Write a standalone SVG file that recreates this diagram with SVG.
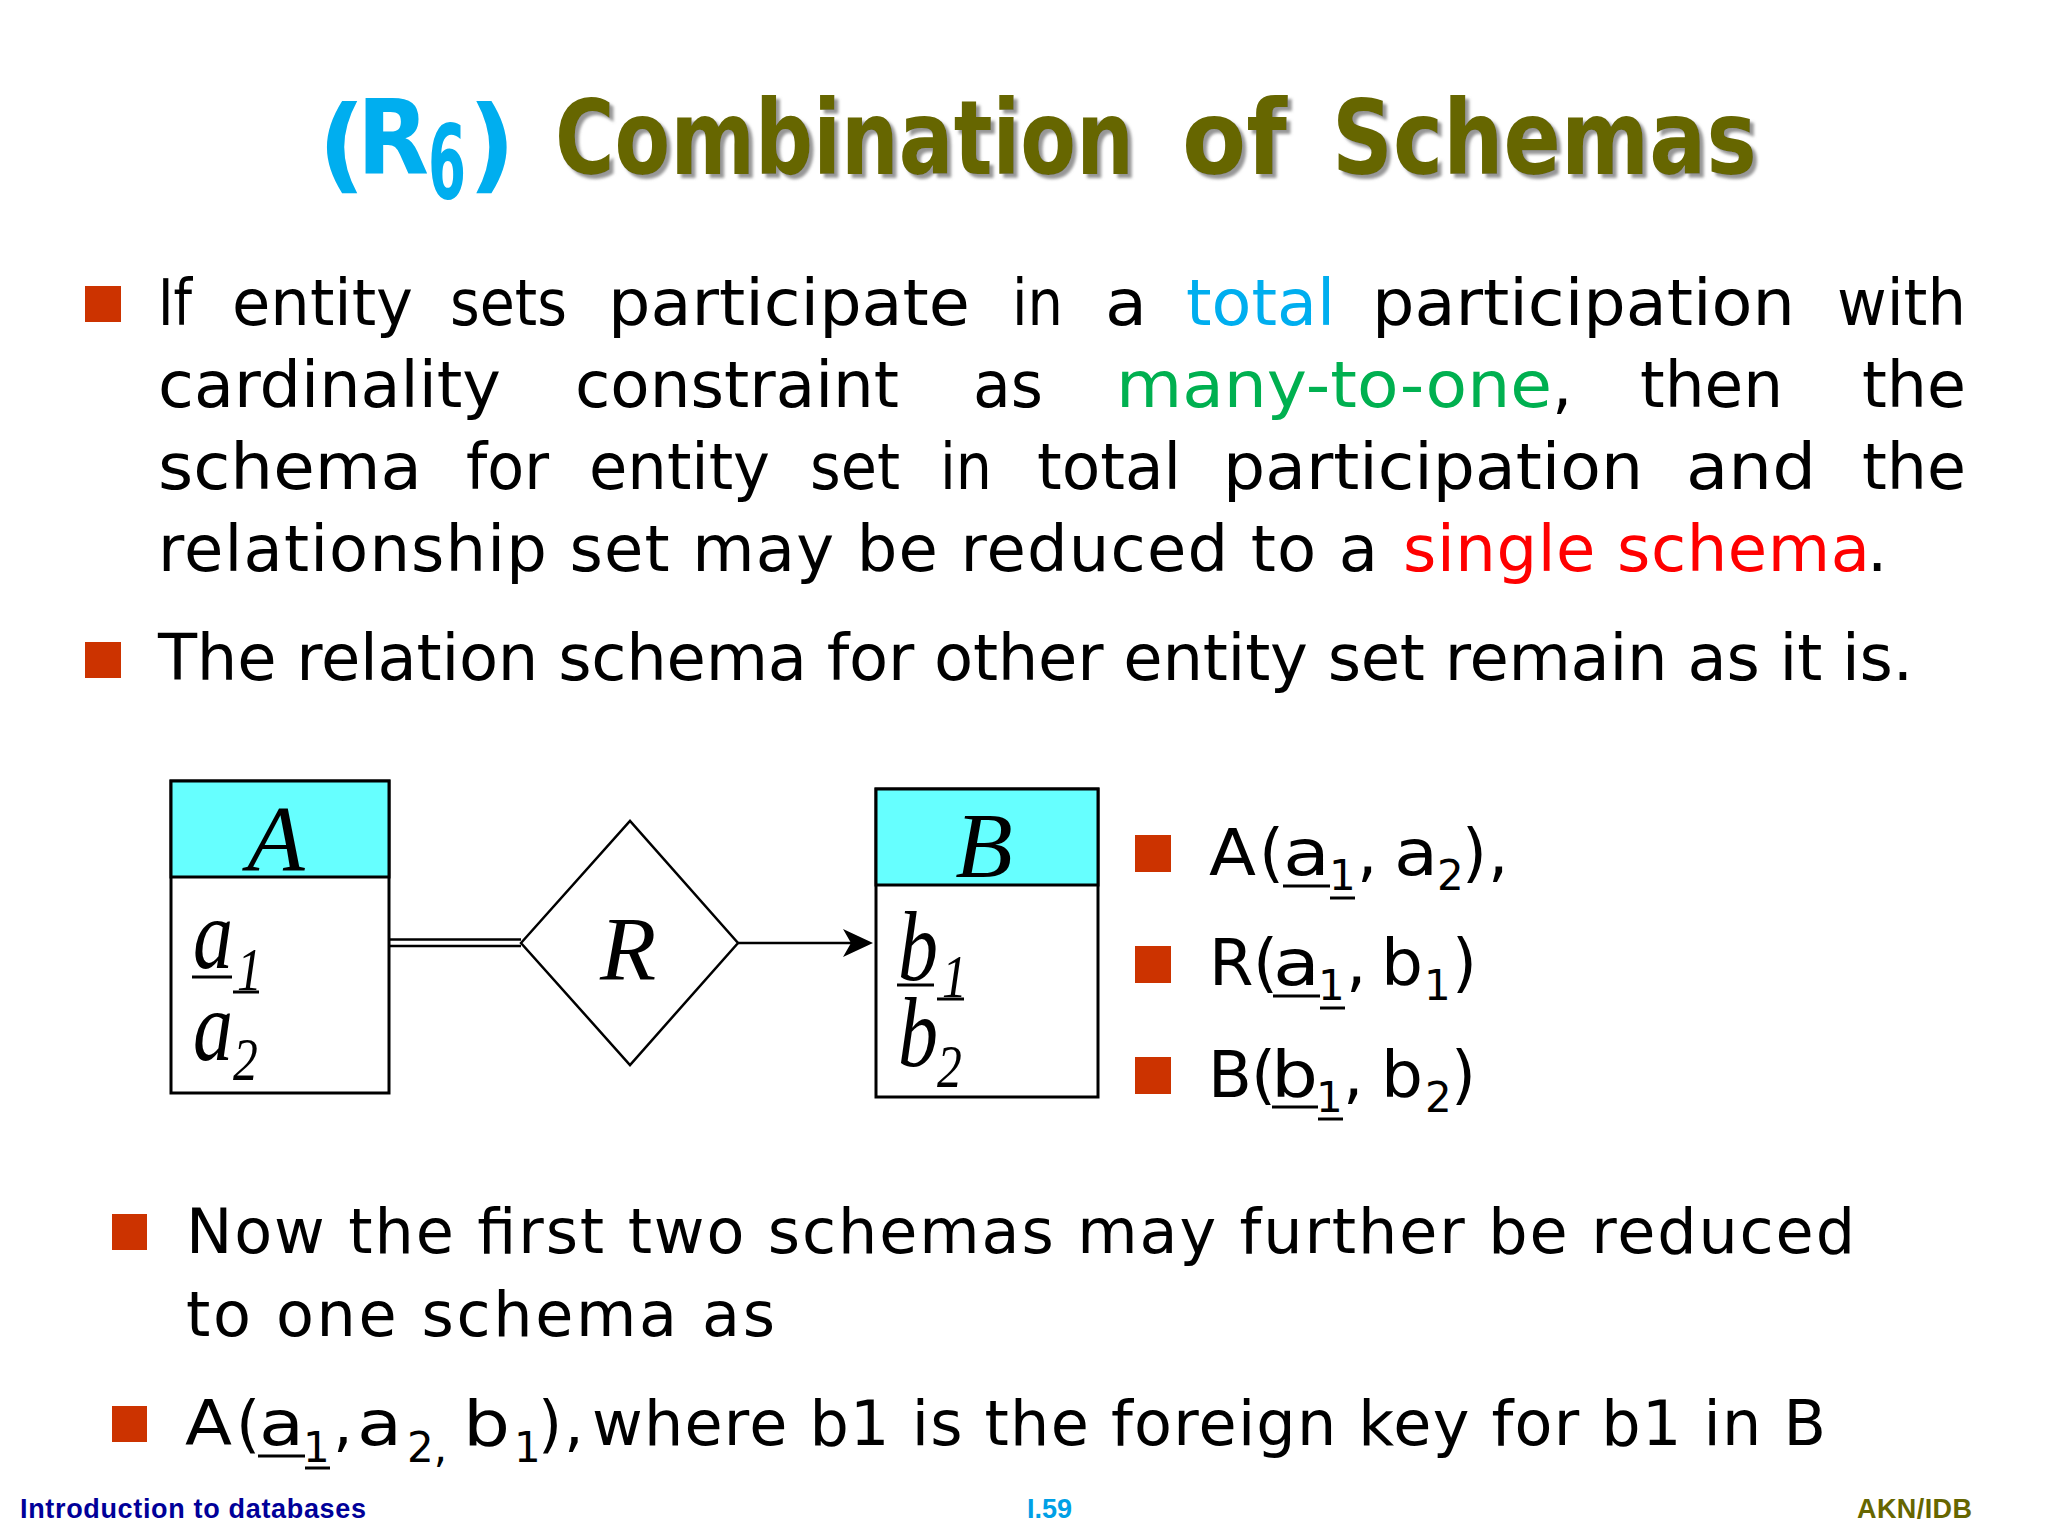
<svg xmlns="http://www.w3.org/2000/svg" width="2048" height="1536" viewBox="0 0 2048 1536">
<defs>
<style>
.t{font-family:"DejaVu Sans","Liberation Sans",sans-serif;font-size:64px;fill:#000}
.b{font-family:"DejaVu Sans","Liberation Sans",sans-serif;font-size:62px;fill:#000}
.sub{font-size:42px}
.bul{fill:#cc3300}
.ttl{font-family:"DejaVu Sans","Liberation Sans",sans-serif;font-weight:bold;font-size:104px}
.er{font-family:"Liberation Serif","Times New Roman",serif;font-style:italic;fill:#000}
.box{fill:#fff;stroke:#000;stroke-width:3}
.hdr{fill:#66ffff;stroke:#000;stroke-width:3}
.ul{stroke:#000;stroke-width:3}
.ft{font-family:"Liberation Sans",Arial,sans-serif;font-weight:bold;font-size:27px}
</style>
<filter id="sh" x="-5%" y="-20%" width="110%" height="150%"><feDropShadow dx="4" dy="4" stdDeviation="1.5" flood-color="#8c8c8c" flood-opacity="0.9"/></filter>
</defs>
<rect width="2048" height="1536" fill="#ffffff"/>

<g id="title">
<g fill="#00aeef">
<text class="ttl" x="318" y="180" font-size="124">(</text>
<text class="ttl" x="357" y="174" textLength="72" lengthAdjust="spacingAndGlyphs">R</text>
<text class="ttl" x="428" y="199" font-size="66" textLength="38" lengthAdjust="spacingAndGlyphs">6</text>
<text class="ttl" x="468" y="180" font-size="124">)</text>
</g>
<g fill="#666600" filter="url(#sh)">
<text class="ttl" x="555" y="174" textLength="579" lengthAdjust="spacingAndGlyphs">Combination</text>
<text class="ttl" x="1182" y="174" textLength="105" lengthAdjust="spacingAndGlyphs">of</text>
<text class="ttl" x="1332" y="174" textLength="425" lengthAdjust="spacingAndGlyphs">Schemas</text>
</g>
</g>

<g id="bullets-top">
<rect class="bul" x="85" y="286" width="36" height="36"/>
<text class="t" y="325"><tspan x="158" textLength="34" lengthAdjust="spacingAndGlyphs">If</tspan><tspan x="232" textLength="181" lengthAdjust="spacingAndGlyphs">entity</tspan><tspan x="450" textLength="117" lengthAdjust="spacingAndGlyphs">sets</tspan><tspan x="608" textLength="362" lengthAdjust="spacingAndGlyphs">participate</tspan><tspan x="1012" textLength="51" lengthAdjust="spacingAndGlyphs">in</tspan><tspan x="1105" textLength="42" lengthAdjust="spacingAndGlyphs">a</tspan><tspan x="1186" textLength="149" lengthAdjust="spacingAndGlyphs" fill="#00aeef">total</tspan><tspan x="1372" textLength="423" lengthAdjust="spacingAndGlyphs">participation</tspan><tspan x="1837" textLength="129" lengthAdjust="spacingAndGlyphs">with</tspan></text>
<text class="t" y="407"><tspan x="158" textLength="343" lengthAdjust="spacingAndGlyphs">cardinality</tspan><tspan x="575" textLength="324" lengthAdjust="spacingAndGlyphs">constraint</tspan><tspan x="973" textLength="70" lengthAdjust="spacingAndGlyphs">as</tspan><tspan x="1116" textLength="436" lengthAdjust="spacingAndGlyphs" fill="#00b050">many-to-one</tspan><tspan x="1552">,</tspan><tspan x="1640" textLength="143" lengthAdjust="spacingAndGlyphs">then</tspan><tspan x="1862" textLength="104" lengthAdjust="spacingAndGlyphs">the</tspan></text>
<text class="t" y="489"><tspan x="158" textLength="264" lengthAdjust="spacingAndGlyphs">schema</tspan><tspan x="466" textLength="83" lengthAdjust="spacingAndGlyphs">for</tspan><tspan x="589" textLength="181" lengthAdjust="spacingAndGlyphs">entity</tspan><tspan x="810" textLength="90" lengthAdjust="spacingAndGlyphs">set</tspan><tspan x="940" textLength="52" lengthAdjust="spacingAndGlyphs">in</tspan><tspan x="1037" textLength="144" lengthAdjust="spacingAndGlyphs">total</tspan><tspan x="1223" textLength="420" lengthAdjust="spacingAndGlyphs">participation</tspan><tspan x="1686" textLength="130" lengthAdjust="spacingAndGlyphs">and</tspan><tspan x="1862" textLength="104" lengthAdjust="spacingAndGlyphs">the</tspan></text>
<text class="t" y="571"><tspan x="158" textLength="1220">relationship set may be reduced to a</tspan><tspan x="1403" textLength="467" fill="#ff0000">single schema</tspan><tspan x="1867">.</tspan></text>
<rect class="bul" x="85" y="642" width="36" height="36"/>
<text class="t" x="158" y="680" textLength="1755">The relation schema for other entity set remain as it is.</text>
</g>

<g id="entity-A">
<rect class="box" x="171" y="781" width="218" height="312"/>
<rect class="hdr" x="171" y="781" width="218" height="96"/>
<text class="er" x="276" y="870" font-size="94" text-anchor="middle">A</text>
<text class="er" transform="translate(193,968) scale(0.8,1)" font-size="100">a</text>
<text class="er" transform="translate(237,990) scale(0.8,1)" font-size="62">1</text>
<line class="ul" x1="192" y1="977" x2="232" y2="977"/>
<line class="ul" x1="233" y1="992" x2="259" y2="992"/>
<text class="er" transform="translate(193,1060) scale(0.8,1)" font-size="100">a</text>
<text class="er" transform="translate(233,1080) scale(0.8,1)" font-size="62">2</text>
</g>

<g id="relationship-R">
<polygon points="521,943 630,821 738,943 630,1065" fill="#fff" stroke="#000" stroke-width="2.5"/>
<text class="er" x="628" y="980" font-size="92" text-anchor="middle">R</text>
</g>

<g id="entity-B">
<rect class="box" x="876" y="789" width="222" height="308"/>
<rect class="hdr" x="876" y="789" width="222" height="96"/>
<text class="er" x="984" y="877" font-size="94" text-anchor="middle">B</text>
<text class="er" transform="translate(898,980) scale(0.8,1)" font-size="100">b</text>
<text class="er" transform="translate(942,997) scale(0.8,1)" font-size="62">1</text>
<line class="ul" x1="897" y1="985" x2="934" y2="985"/>
<line class="ul" x1="937" y1="999" x2="964" y2="999"/>
<text class="er" transform="translate(898,1066) scale(0.8,1)" font-size="100">b</text>
<text class="er" transform="translate(937,1087) scale(0.8,1)" font-size="62">2</text>
</g>

<g id="connectors" stroke="#000" stroke-width="2.5" fill="none">
<line x1="390" y1="939.5" x2="521" y2="939.5"/>
<line x1="390" y1="946" x2="521" y2="946"/>
<line x1="738" y1="943" x2="860" y2="943"/>
<polygon points="873,943 843,929 851,943 843,957" fill="#000" stroke="none"/>
</g>

<g id="schema-list">
<rect class="bul" x="1135" y="835" width="36" height="37"/>
<text class="t" y="875"><tspan x="1209" textLength="47" lengthAdjust="spacingAndGlyphs">A</tspan><tspan x="1259">(</tspan><tspan x="1283" textLength="47" lengthAdjust="spacingAndGlyphs">a</tspan><tspan class="sub" x="1329" y="890">1</tspan><tspan x="1357" y="875">,</tspan><tspan x="1394" textLength="44" lengthAdjust="spacingAndGlyphs">a</tspan><tspan class="sub" x="1437" y="890">2</tspan><tspan x="1462" y="875">)</tspan><tspan x="1488">,</tspan></text>
<line class="ul" x1="1283" y1="886" x2="1330" y2="886"/>
<line class="ul" x1="1330" y1="898" x2="1355" y2="898"/>
<rect class="bul" x="1135" y="946" width="36" height="37"/>
<text class="t" y="985"><tspan x="1209">R</tspan><tspan x="1253">(</tspan><tspan x="1273" textLength="47" lengthAdjust="spacingAndGlyphs">a</tspan><tspan class="sub" x="1318" y="1000">1</tspan><tspan x="1346" y="985">,</tspan><tspan x="1381" textLength="42" lengthAdjust="spacingAndGlyphs">b</tspan><tspan class="sub" x="1424" y="1000">1</tspan><tspan x="1452" y="985">)</tspan></text>
<line class="ul" x1="1273" y1="996" x2="1320" y2="996"/>
<line class="ul" x1="1320" y1="1008" x2="1345" y2="1008"/>
<rect class="bul" x="1135" y="1057" width="36" height="37"/>
<text class="t" y="1097"><tspan x="1208">B</tspan><tspan x="1251">(</tspan><tspan x="1271" textLength="47" lengthAdjust="spacingAndGlyphs">b</tspan><tspan class="sub" x="1316" y="1112">1</tspan><tspan x="1343" y="1097">,</tspan><tspan x="1381" textLength="42" lengthAdjust="spacingAndGlyphs">b</tspan><tspan class="sub" x="1425" y="1112">2</tspan><tspan x="1451" y="1097">)</tspan></text>
<line class="ul" x1="1272" y1="1107" x2="1318" y2="1107"/>
<line class="ul" x1="1318" y1="1119" x2="1343" y2="1119"/>
</g>

<g id="bullets-bottom">
<rect class="bul" x="112" y="1214" width="35" height="36"/>
<text class="b" x="186" y="1253" textLength="1669">Now the first two schemas may further be reduced</text>
<text class="b" x="186" y="1336" textLength="589">to one schema as</text>
<rect class="bul" x="112" y="1406" width="35" height="36"/>
<text class="b" y="1445"><tspan x="185" textLength="47" lengthAdjust="spacingAndGlyphs">A</tspan><tspan x="236">(</tspan><tspan x="259" textLength="45" lengthAdjust="spacingAndGlyphs">a</tspan><tspan class="sub" x="303" y="1462">1</tspan><tspan x="333" y="1445">,</tspan><tspan x="357" textLength="45" lengthAdjust="spacingAndGlyphs">a</tspan><tspan class="sub" x="407" y="1462">2,</tspan><tspan x="463" y="1445" textLength="47" lengthAdjust="spacingAndGlyphs">b</tspan><tspan class="sub" x="514" y="1462">1</tspan><tspan x="538" y="1445">)</tspan><tspan x="564">,</tspan><tspan x="592" textLength="1234">where b1 is the foreign key for b1 in B</tspan></text>
<line class="ul" x1="258" y1="1456" x2="305" y2="1456"/>
<line class="ul" x1="305" y1="1468" x2="330" y2="1468"/>
</g>

<g id="footer">
<text class="ft" x="20" y="1518" fill="#000099" textLength="346">Introduction to databases</text>
<text class="ft" x="1027" y="1518" fill="#00a0e6">I.59</text>
<text class="ft" x="1857" y="1518" fill="#666600" textLength="115">AKN/IDB</text>
</g>
</svg>
